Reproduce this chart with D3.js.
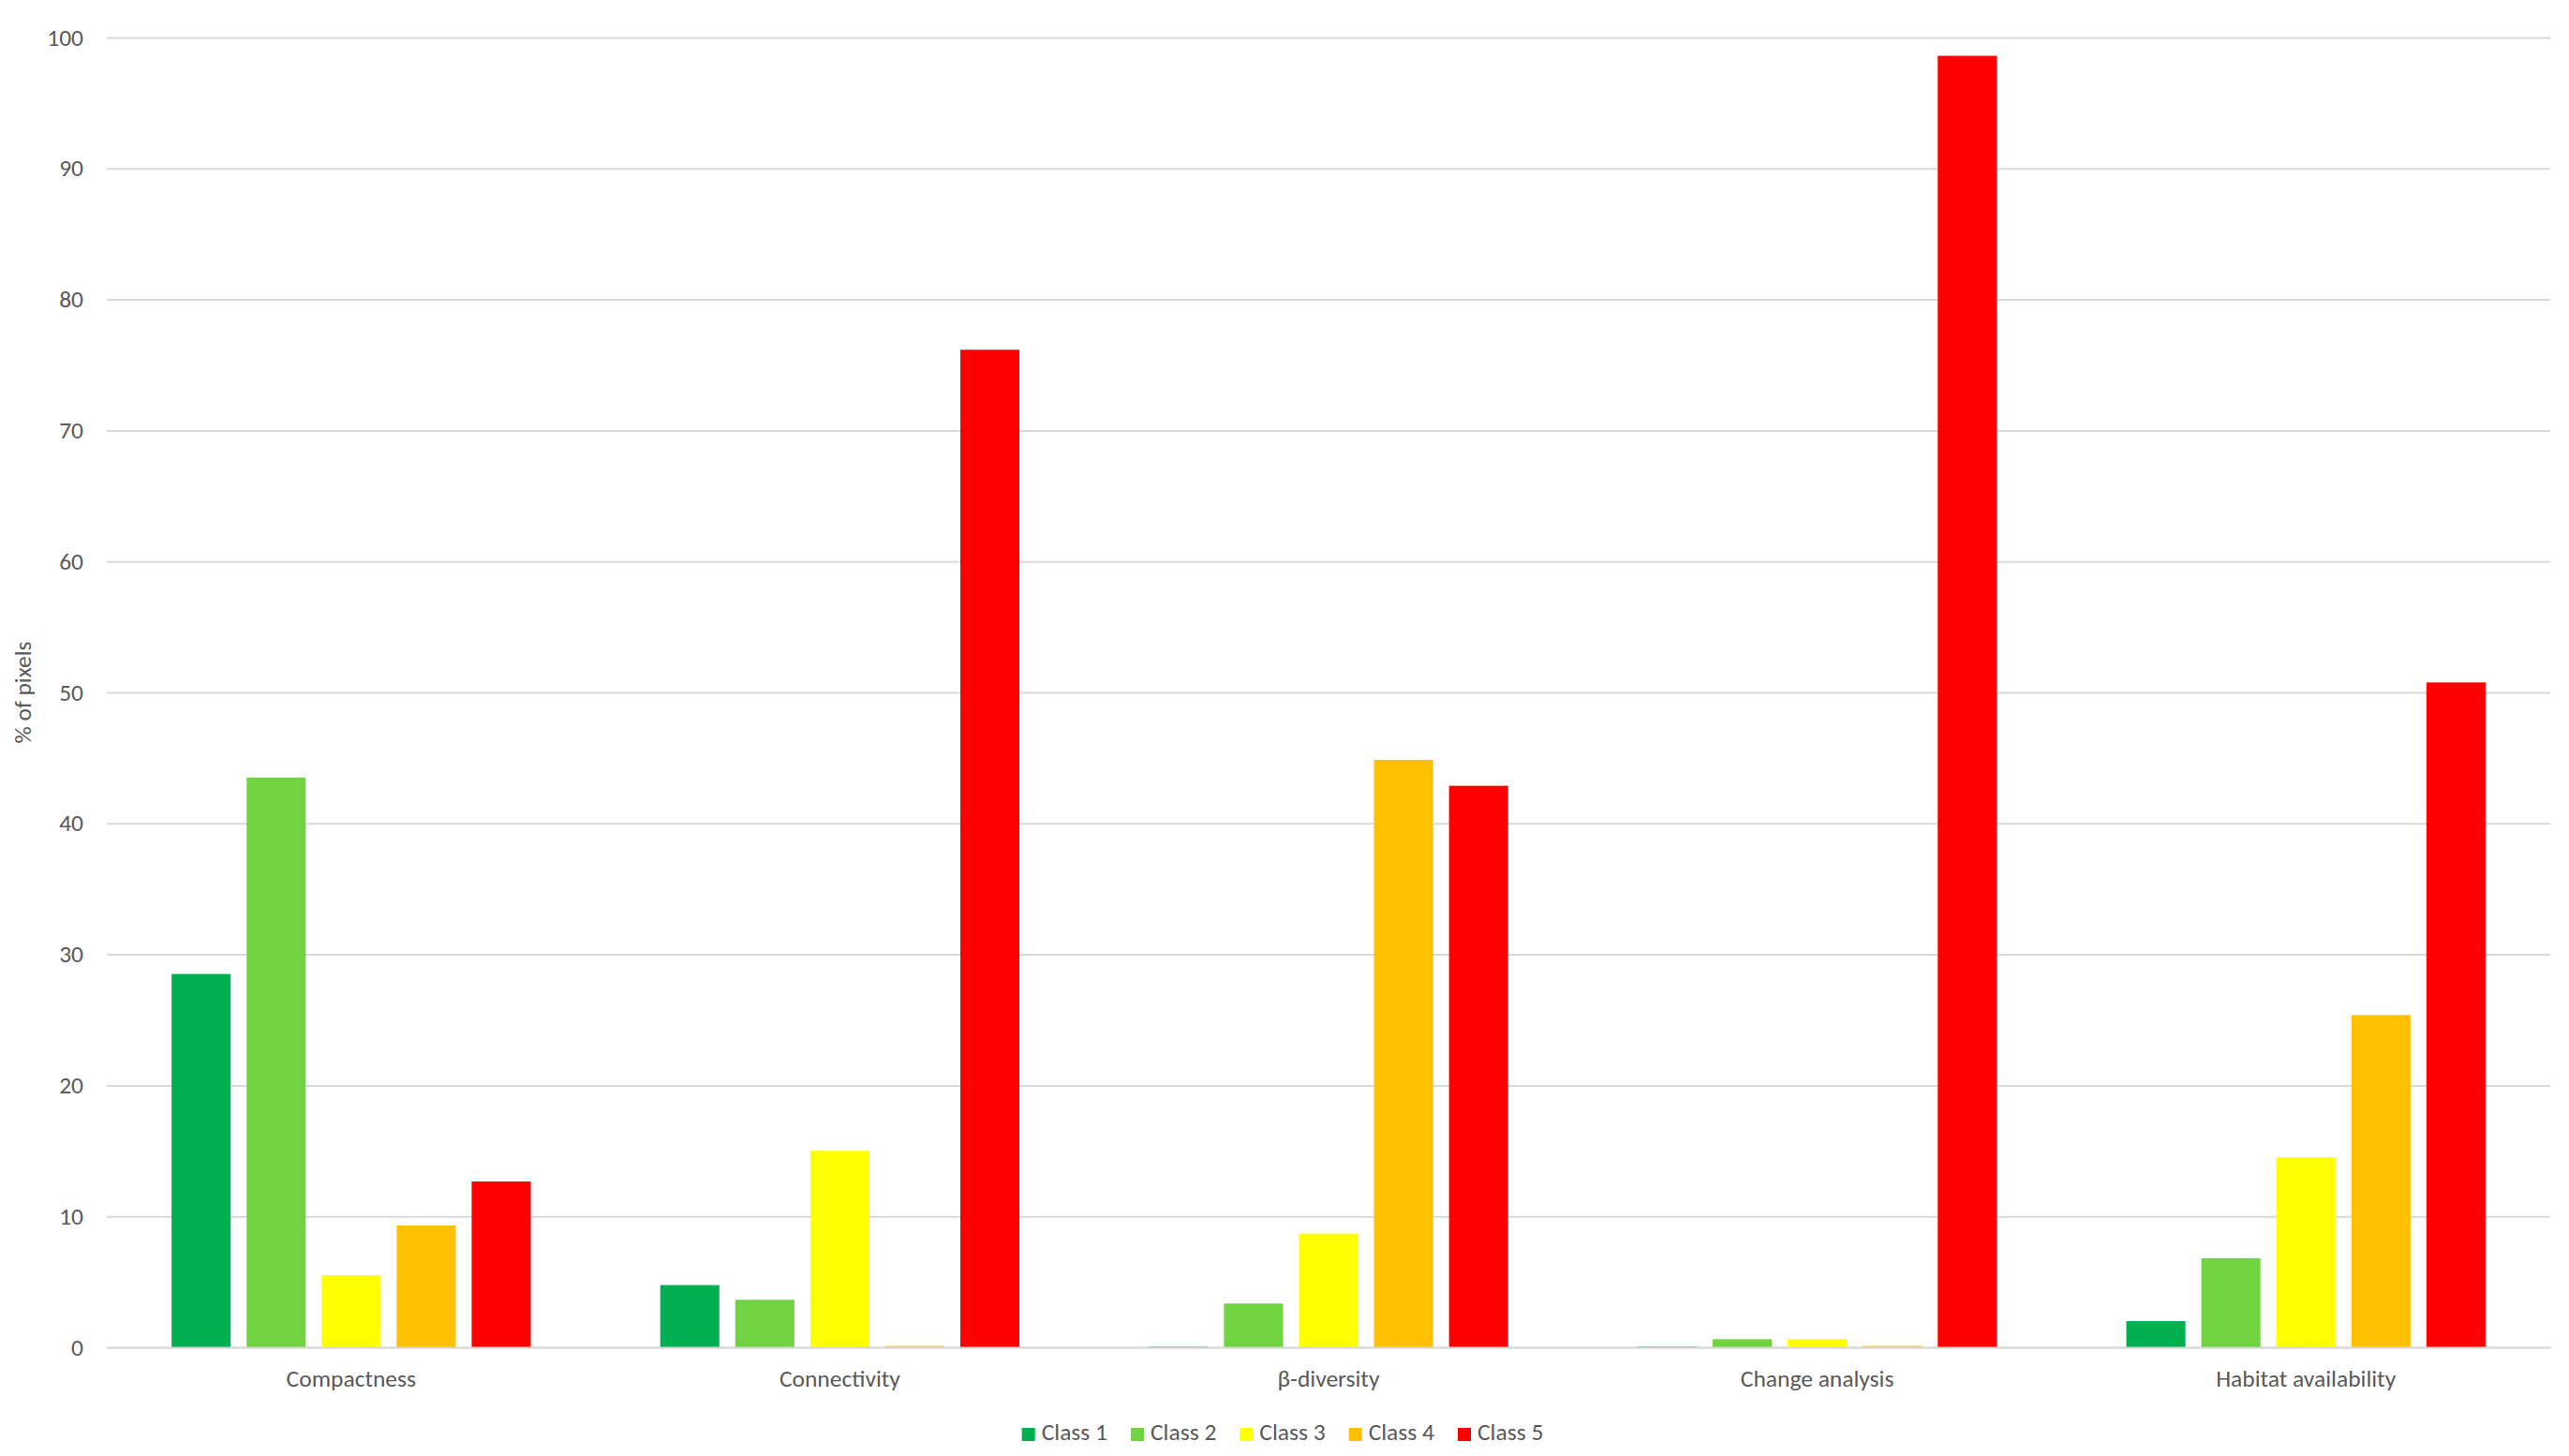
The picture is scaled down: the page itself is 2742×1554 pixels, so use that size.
<!DOCTYPE html>
<html>
<head>
<meta charset="utf-8">
<script src="https://cdn.jsdelivr.net/npm/d3@7"></script>
<style>
  html, body { margin: 0; padding: 0; background: #fff; }
  svg text { font-family: Carlito, Lato, "Open Sans", sans-serif; fill: #595959; }
</style>
</head>
<body>
<svg id="chart" width="2742" height="1554"></svg>
<script>
const categories = ["Compactness", "Connectivity", "β-diversity", "Change analysis", "Habitat availability"];
const classes = ["Class 1", "Class 2", "Class 3", "Class 4", "Class 5"];
const class1 = [28.5, 4.75, 0.05, 0.05, 2.0];
const class2 = [43.5, 3.63, 3.34, 0.62, 6.8];
const class3 = [5.5, 15.0, 8.68, 0.62, 14.5];
const class4 = [9.3, 0.1, 44.85, 0.1, 25.37];
const class5 = [12.66, 76.16, 42.87, 98.6, 50.76];
const yTicks = [0, 10, 20, 30, 40, 50, 60, 70, 80, 90, 100];
const colors = ["#00B050", "#6FD440", "#FFFF00", "#FFC000", "#FF0000"];
const series = [class1, class2, class3, class4, class5];

const FS = 25.5;
const svg = d3.select("#chart");
const margin = { left: 114, right: 20, top: 40, bottom: 116 };
const W = 2742, H = 1554;
const plotL = margin.left, plotR = W - margin.right;
const plotT = margin.top, plotB = H - margin.bottom;

const y = d3.scaleLinear().domain([0, 100]).range([plotB, plotT]);
const x0 = d3.scaleBand().domain(categories).range([plotL, plotR]).padding(0);
const bw = x0.bandwidth();
const outer = bw * 0.1325;
const x1 = d3.scaleBand().domain(classes).range([outer, bw - outer]).paddingInner(0.2125).paddingOuter(0);

// gridlines
const grid = svg.append("g")
  .attr("transform", `translate(${plotL},0)`)
  .call(d3.axisLeft(y).tickValues(yTicks).tickSize(-(plotR - plotL)).tickFormat(""));
grid.select(".domain").remove();
grid.selectAll(".tick line").attr("stroke", "#d9d9d9").attr("stroke-width", 2);

// y tick labels
const yAxis = svg.append("g")
  .attr("transform", `translate(${plotL - 25},0)`)
  .call(d3.axisLeft(y).tickValues(yTicks).tickSize(0).tickPadding(0));
yAxis.select(".domain").remove();
yAxis.selectAll("text").attr("font-size", FS).attr("fill", "#595959")
  .style("font-family", "Carlito, Lato, 'Open Sans', sans-serif");

// bars
const groups = svg.append("g").selectAll("g")
  .data(categories)
  .join("g")
  .attr("transform", d => `translate(${x0(d)},0)`);

groups.selectAll("rect")
  .data((d, i) => classes.map((c, j) => ({ c, j, v: series[j][i] })))
  .join("rect")
  .attr("x", d => x1(d.c))
  .attr("width", x1.bandwidth())
  .attr("y", d => y(d.v))
  .attr("height", d => y(0) - y(d.v))
  .attr("fill", d => colors[d.j]);

// x axis baseline + labels
const xAxis = svg.append("g")
  .attr("transform", `translate(0,${plotB})`)
  .call(d3.axisBottom(x0).tickSize(0).tickPadding(24));
xAxis.select(".domain").attr("stroke", "#d9d9d9").attr("stroke-width", 2);
xAxis.selectAll("text").attr("font-size", FS).attr("fill", "#595959")
  .style("font-family", "Carlito, Lato, 'Open Sans', sans-serif");

// y axis title
svg.append("text")
  .attr("transform", `translate(33,${(plotT + plotB) / 2}) rotate(-90)`)
  .attr("text-anchor", "middle")
  .attr("font-size", FS)
  .text("% of pixels");

// legend
const legend = svg.append("g");
const items = legend.selectAll("g").data(classes).join("g");
items.append("rect").attr("width", 14).attr("height", 14).attr("y", -13)
  .attr("fill", (d, i) => colors[i]);
items.append("text").attr("x", 21).attr("y", 0).attr("font-size", FS).text(d => d);
let off = 0;
items.each(function () {
  const w = this.getBBox().width;
  d3.select(this).attr("transform", `translate(${off},0)`);
  off += w + 25;
});
const totalW = off - 25;
legend.attr("transform", `translate(${W / 2 - totalW / 2 - 2},1537)`);
</script>
</body>
</html>
